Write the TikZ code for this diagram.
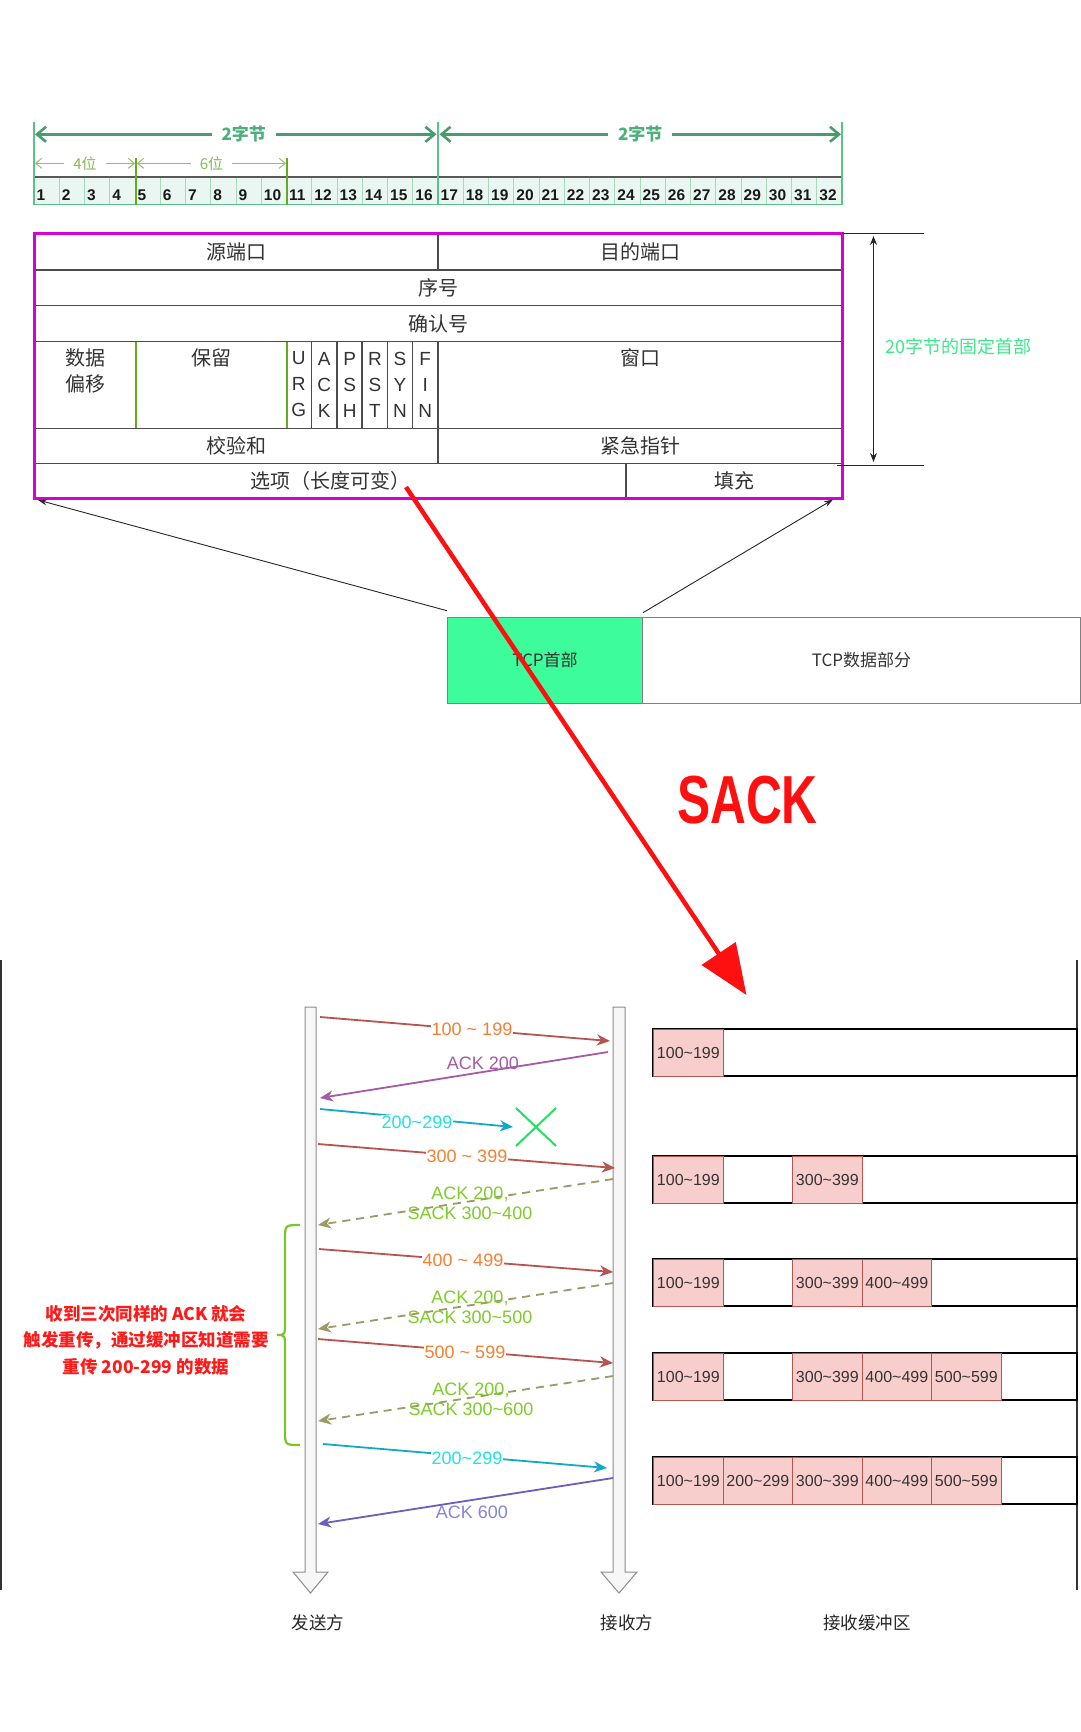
\documentclass[tikz,border=0pt]{standalone}
\usepackage{fontspec}
\setmainfont{Liberation Sans}
\newfontfamily\cjk{Noto Sans CJK SC}
\usetikzlibrary{arrows.meta,shapes.misc}
\definecolor{hdrmagenta}{HTML}{D500D5}
\definecolor{bytegreen}{HTML}{4A9C6E}
\definecolor{bytetext}{HTML}{4DB07C}
\definecolor{byteline}{HTML}{5CC08A}
\definecolor{bitgreen}{HTML}{8CC46A}
\definecolor{bittext}{HTML}{86B858}
\definecolor{divgreen}{HTML}{66AA22}
\definecolor{cellfill}{HTML}{EAF6F1}
\definecolor{celledge}{HTML}{A8D8C0}
\definecolor{fixgreen}{HTML}{3DE88A}
\definecolor{hdrfill}{HTML}{3DFC9B}
\definecolor{sackred}{HTML}{FF1010}
\definecolor{datared}{HTML}{B85450}
\definecolor{dataorange}{HTML}{F57F32}
\definecolor{ackpurple}{HTML}{A35CA3}
\definecolor{resendline}{HTML}{14A8C8}
\definecolor{resendtext}{HTML}{22E2E2}
\definecolor{lostgreen}{HTML}{22E060}
\definecolor{sackolive}{HTML}{9A9A66}
\definecolor{sacktext}{HTML}{7FCB2A}
\definecolor{ackblue}{HTML}{6A5FBA}
\definecolor{acktext}{HTML}{8585D6}
\definecolor{bufpink}{HTML}{F8CECC}
\definecolor{bracegreen}{HTML}{7CC42A}
\definecolor{notered}{HTML}{FF1A1A}
\begin{document}
\begin{tikzpicture}[x=1pt, y=-1pt,
	zh/.style={font=\cjk\fontsize{20}{26}\selectfont, text=black!80, inner sep=0pt, align=center},
	flag/.style={font=\fontsize{19}{26}\selectfont, text=black!80, inner sep=0pt, align=center},
	bitno/.style={font=\bfseries\fontsize{15.5}{16}\selectfont, text=black!90, anchor=west, inner sep=0pt},
	bytearrow/.style={bytegreen, line width=2.6pt, {Straight Barb[length=9pt,width=15pt]}-{Straight Barb[length=9pt,width=15pt]}},
	bytelabel/.style={font=\cjk\bfseries\fontsize{17}{17}\selectfont, text=bytetext, fill=white, inner xsep=10pt, inner ysep=1pt},
	bitarrow/.style={bitgreen, line width=1pt, {Straight Barb[length=6pt,width=10pt]}-{Straight Barb[length=6pt,width=10pt]}},
	bitlabel/.style={font=\cjk\fontsize{15}{15}\selectfont, text=bittext, fill=white, inner xsep=9pt, inner ysep=1pt},
	tblline/.style={black!70, line width=1.2pt},
	msg/.style={line width=1.8pt, -{Stealth[length=13pt,width=11pt,inset=4pt]}},
	reply/.style={msg, sackolive, dash pattern=on 8pt off 6pt},
	msglabel/.style={font=\fontsize{18}{18}\selectfont, inner sep=1pt},
	bufcell/.style={draw=datared, fill=bufpink, line width=1.2pt, minimum width=69.5pt, minimum height=47pt, anchor=north west, font=\fontsize{16}{16}\selectfont, text=black!80, inner sep=0pt},
	bufrow/.style={draw=black, line width=2pt},
	lifeline/.style={draw=black!45, fill=black!3, line width=1pt},
	side/.style={font=\cjk\fontsize{17.5}{17.5}\selectfont, text=black!85}]
	\useasboundingbox (0,0) rectangle (1080,1732);
	\fill[white] (0,0) rectangle (1080,1732);
	% bit ruler
	\fill[cellfill] (34,177) rectangle (842,204);
	\foreach \i in {1,...,32} {
		\pgfmathsetmacro\xl{34+25.25*(\i-1)}
		\draw[celledge, line width=1pt] (\xl,177) -- (\xl,204);
		\node[bitno] (bit\i) at (\xl+2.5,195) {\i};
	}
	\draw[black!65, line width=1.2pt] (34,177) -- (842,177);
	\draw[byteline, line width=1.2pt] (34,204.5) -- (842,204.5);
	\draw[byteline, line width=2pt] (34,122) -- (34,205);
	\draw[byteline, line width=2pt] (438,122) -- (438,205);
	\draw[byteline, line width=2pt] (842,122) -- (842,205);
	\draw[divgreen, line width=2.5pt] (136,158) -- (136,205);
	\draw[divgreen, line width=2.5pt] (287,158) -- (287,205);
	\coordinate (b0) at (35,134.3);
	\coordinate (b16l) at (436.5,134.3);
	\coordinate (b16r) at (439.5,134.3);
	\coordinate (b32) at (841,134.3);
	\draw[bytearrow] (b0) -- node[bytelabel, pos=0.52] (byteA) {2字节} (b16l);
	\draw[bytearrow] (b16r) -- node[bytelabel] (byteB) {2字节} (b32);
	\coordinate (w0) at (35,163.3);
	\coordinate (w4) at (135,163.3);
	\coordinate (w4r) at (137,163.3);
	\coordinate (w10) at (286,163.3);
	\draw[bitarrow] (w0) -- node[bitlabel] (offA) {4位} (w4);
	\draw[bitarrow] (w4r) -- node[bitlabel] (offB) {6位} (w10);
	% header table
	\draw[tblline] (34,270) -- (842,270);
	\draw[tblline] (34,305.7) -- (842,305.7);
	\draw[tblline] (34,341.7) -- (842,341.7);
	\draw[tblline] (34,428.3) -- (842,428.3);
	\draw[tblline] (34,463.3) -- (842,463.3);
	\draw[tblline] (438,233) -- (438,270);
	\draw[tblline] (438,341.7) -- (438,463.3);
	\draw[tblline] (311.5,341.7) -- (311.5,428.3);
	\draw[tblline] (337,341.7) -- (337,428.3);
	\draw[tblline] (362,341.7) -- (362,428.3);
	\draw[tblline] (387.5,341.7) -- (387.5,428.3);
	\draw[tblline] (412.5,341.7) -- (412.5,428.3);
	\draw[tblline] (626,463.3) -- (626,498.3);
	\draw[divgreen, line width=2pt] (136,341.7) -- (136,428.3);
	\draw[divgreen, line width=2pt] (287,341.7) -- (287,428.3);
	\draw[hdrmagenta, line width=3pt] (34,233) rectangle (842,498.3);
	\node[zh] (srcport) at (236,251.5) {源端口};
	\node[zh] (dstport) at (640,251.5) {目的端口};
	\node[zh] (seqno) at (438,288) {序号};
	\node[zh] (ackno) at (438,323.7) {确认号};
	\node[zh] (dataoff) at (85,371) {数据\\偏移};
	\node[zh] (reserved) at (211,357.8) {保留};
	\node[flag] (urg) at (298.7,384.5) {U\\R\\G};
	\node[flag] (ack) at (324.2,384.5) {A\\C\\K};
	\node[flag] (psh) at (349.7,384.5) {P\\S\\H};
	\node[flag] (rst) at (374.9,384.5) {R\\S\\T};
	\node[flag] (syn) at (400,384.5) {S\\Y\\N};
	\node[flag] (fin) at (425.2,384.5) {F\\I\\N};
	\node[zh] (window) at (640,357.8) {窗口};
	\node[zh] (checksum) at (236,445.8) {校验和};
	\node[zh] (urgent) at (640,445.8) {紧急指针};
	\node[zh] (options) at (330,480.5) {选项（长度可变）};
	\node[zh] (padding) at (734,480.5) {填充};
	\draw[black!85, line width=1pt] (842,233) -- (924,233);
	\draw[black!85, line width=1pt] (837,465) -- (924,465);
	\coordinate (fixtop) at (873.5,236);
	\coordinate (fixbot) at (873.5,462);
	\draw[black!85, line width=1.2pt, {Stealth[length=9pt,width=7pt]}-{Stealth[length=9pt,width=7pt]}] (fixtop) -- (fixbot);
	\node[font=\cjk\fontsize{18}{18}\selectfont, text=fixgreen] (fixed) at (958.7,346.7) {20字节的固定首部};
	% segment
	\node[draw=black!50, fill=hdrfill, line width=1pt, minimum width=195pt, minimum height=86pt, anchor=north west, font=\cjk\fontsize{17}{17}\selectfont, text=black!80] (tcphdr) at (447,616.7) {TCP首部};
	\node[draw=black!50, fill=white, line width=1pt, minimum width=438pt, minimum height=86pt, anchor=north west, font=\cjk\fontsize{17}{17}\selectfont, text=black!80] (tcpdata) at (642,616.7) {TCP数据部分};
	\coordinate (tblsw) at (38,500);
	\coordinate (tblse) at (833,499.5);
	\draw[black!85, line width=0.9pt, -{Stealth[length=9pt,width=6pt]}] ([yshift=6pt]tcphdr.north west) -- (tblsw);
	\draw[black!85, line width=0.9pt, -{Stealth[length=9pt,width=6pt]}] ([yshift=4pt]tcphdr.north east) -- (tblse);
	\coordinate (sackfrom) at (406,487);
	\coordinate (sackto) at (746.5,995);
	\draw[sackred, line width=4.5pt, -{Triangle[length=50pt,width=40pt]}] (sackfrom) -- (sackto);
	\node[text=sackred, font=\bfseries\fontsize{68}{68}\selectfont, inner sep=0pt] (sack) at (747.5,800.5) {\scalebox{0.73}[1]{SACK}};
	% sequence
	\draw[black!80, line width=2pt] (1,960) -- (1,1590);
	\draw[black!80, line width=2pt] (1077,960) -- (1077,1590);
	\draw[lifeline] (305,1007) -- (316,1007) -- (316,1572) -- (328,1572) -- (310.5,1593) -- (293,1572) -- (305,1572) -- cycle;
	\draw[lifeline] (613,1007) -- (625,1007) -- (625,1572) -- (637,1572) -- (619,1593) -- (601,1572) -- (613,1572) -- cycle;
	\node[side] (sender) at (318,1623) {发送方};
	\node[side] (receiver) at (627,1623) {接收方};
	\node[side] (rcvbuf) at (867,1623) {接收缓冲区};
	\coordinate (s1) at (320,1017); \coordinate (r1) at (610,1041);
	\coordinate (r2) at (608,1052); \coordinate (s2) at (320,1098);
	\coordinate (s3) at (320,1109); \coordinate (r3) at (513,1127);
	\coordinate (s4) at (318,1144); \coordinate (r4) at (615,1168);
	\coordinate (r5) at (613,1179); \coordinate (s5) at (318,1225);
	\coordinate (s6) at (319,1249); \coordinate (r6) at (613,1272);
	\coordinate (r7) at (613,1283); \coordinate (s7) at (318,1329);
	\coordinate (s8) at (318,1339); \coordinate (r8) at (613,1363);
	\coordinate (r9) at (613,1376); \coordinate (s9) at (318,1421);
	\coordinate (s10) at (323,1444); \coordinate (r10) at (607,1468);
	\coordinate (r11) at (613,1478); \coordinate (s11) at (318,1524);
	\draw[msg, datared] (s1) -> (r1);
	\draw[msg, ackpurple] (r2) -> (s2);
	\draw[msg, resendline] (s3) -> (r3);
	\draw[msg, datared] (s4) -> (r4);
	\draw[reply] (r5) -> (s5);
	\draw[msg, datared] (s6) -> (r6);
	\draw[reply] (r7) -> (s7);
	\draw[msg, datared] (s8) -> (r8);
	\draw[reply] (r9) -> (s9);
	\draw[msg, resendline] (s10) -> (r10);
	\draw[msg, ackblue] (r11) -> (s11);
	\node[msglabel, fill=white, text=dataorange] (seg1) at (472,1029) {100 \textasciitilde{} 199};
	\node[msglabel, text=ackpurple] (ack1) at (483,1063) {ACK 200};
	\node[msglabel, fill=white, text=resendtext] (seg2) at (417,1122) {200\textasciitilde 299};
	\node[draw=lostgreen, line width=2pt, cross out, minimum width=38pt, minimum height=36pt] (lost) at (536,1127) {};
	\node[msglabel, fill=white, text=dataorange] (seg3) at (467,1156) {300 \textasciitilde{} 399};
	\node[msglabel, text=sacktext, align=center, font=\fontsize{18}{20}\selectfont] (sack1) at (470,1203) {ACK 200,\\SACK 300\textasciitilde 400};
	\node[msglabel, fill=white, text=dataorange] (seg4) at (463,1260) {400 \textasciitilde{} 499};
	\node[msglabel, text=sacktext, align=center, font=\fontsize{18}{20}\selectfont] (sack2) at (470,1307.5) {ACK 200,\\SACK 300\textasciitilde 500};
	\node[msglabel, fill=white, text=dataorange] (seg5) at (465,1352) {500 \textasciitilde{} 599};
	\node[msglabel, text=sacktext, align=center, font=\fontsize{18}{20}\selectfont] (sack3) at (471,1399) {ACK 200,\\SACK 300\textasciitilde 600};
	\node[msglabel, fill=white, text=resendtext] (seg6) at (467,1458) {200\textasciitilde 299};
	\node[msglabel, text=acktext] (ack2) at (472,1512) {ACK 600};
	\draw[bracegreen, line width=2.2pt] (300,1225) .. controls (285,1225) .. (285,1240) -- (285,1322) .. controls (285,1335) .. (277,1335) .. controls (285,1335) .. (285,1348) -- (285,1430) .. controls (285,1445) .. (300,1445);
	\node[font=\cjk\bfseries\fontsize{17.5}{26.5}\selectfont, text=notered, align=center] (note) at (146,1340) {收到三次同样的 ACK 就会\\触发重传，通过缓冲区知道需要\\重传 200-299 的数据};
	% receive buffer
	\draw[bufrow] (653,1029) rectangle (1077,1076);
	\node[bufcell] (b1c1) at (653,1029) {100\textasciitilde 199};
	\draw[bufrow] (653,1156) rectangle (1077,1203);
	\node[bufcell] (b2c1) at (653,1156) {100\textasciitilde 199};
	\node[bufcell] (b2c3) at (792,1156) {300\textasciitilde 399};
	\draw[bufrow] (653,1259) rectangle (1077,1306);
	\node[bufcell] (b3c1) at (653,1259) {100\textasciitilde 199};
	\node[bufcell] (b3c3) at (792,1259) {300\textasciitilde 399};
	\node[bufcell] (b3c4) at (861.5,1259) {400\textasciitilde 499};
	\draw[bufrow] (653,1353) rectangle (1077,1400);
	\node[bufcell] (b4c1) at (653,1353) {100\textasciitilde 199};
	\node[bufcell] (b4c3) at (792,1353) {300\textasciitilde 399};
	\node[bufcell] (b4c4) at (861.5,1353) {400\textasciitilde 499};
	\node[bufcell] (b4c5) at (931,1353) {500\textasciitilde 599};
	\draw[bufrow] (653,1457) rectangle (1077,1504);
	\node[bufcell] (b5c1) at (653,1457) {100\textasciitilde 199};
	\node[bufcell] (b5c2) at (722.5,1457) {200\textasciitilde 299};
	\node[bufcell] (b5c3) at (792,1457) {300\textasciitilde 399};
	\node[bufcell] (b5c4) at (861.5,1457) {400\textasciitilde 499};
	\node[bufcell] (b5c5) at (931,1457) {500\textasciitilde 599};
\end{tikzpicture}
\end{document}
